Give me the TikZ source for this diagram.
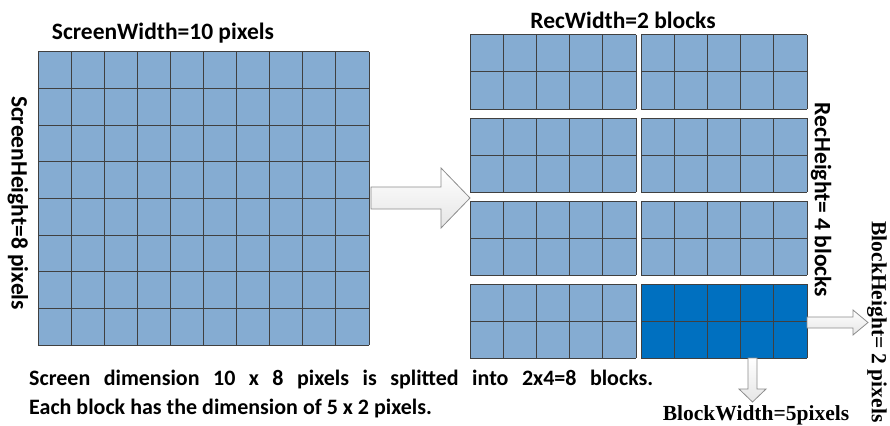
\documentclass[tikz,border=0pt]{standalone}
\usepackage{fontspec}
\setmainfont{Carlito}
\newfontfamily\serifbold{Liberation Serif}
\usetikzlibrary{shadings}
\definecolor{cellblue}{HTML}{85ACD2}
\definecolor{darkblue}{HTML}{0070C0}
\definecolor{gridgray}{HTML}{404040}
\definecolor{arrowgray}{HTML}{8C8C8C}
\begin{document}
\begin{tikzpicture}[x=1pt,y=-1pt,
  gridline/.style={draw=gridgray, line width=1pt},
  lbl/.style={font=\fontsize{23.5}{26}\selectfont\bfseries, inner sep=0pt},
  txt/.style={font=\fontsize{22}{25}\selectfont\bfseries, inner sep=0pt},
  slbl/.style={font=\fontsize{21.5}{24}\selectfont\serifbold\bfseries, inner sep=0pt},
  blockarrow/.style={draw=arrowgray, line width=0.8pt, top color=white, bottom color=gray!20, shading angle=0}
]
\useasboundingbox (0,0) rectangle (890,425);
% left screen grid
\fill[cellblue] (38,52) rectangle (369,345);
\foreach \i in {0,...,10} \draw[gridline] (38+\i*33.1,52) -- (38+\i*33.1,345);
\foreach \j in {0,...,8} \draw[gridline] (38,52+\j*36.625) -- (369,52+\j*36.625);
% right blocks
\foreach \bx in {470,641} {
  \foreach \by in {35,118,201,284} {
    \fill[cellblue] (\bx,\by) rectangle ++(166,74);
    \foreach \i in {0,...,5} \draw[gridline] (\bx+\i*33.2,\by) -- ++(0,74);
    \foreach \j in {0,1,2} \draw[gridline] (\bx,\by+\j*37) -- ++(166,0);
  }
}
% highlighted block
\fill[darkblue] (641,284) rectangle ++(166,74);
\foreach \i in {0,...,5} \draw[gridline] (641+\i*33.2,284) -- ++(0,74);
\foreach \j in {0,1,2} \draw[gridline] (641,284+\j*37) -- ++(166,0);
% block arrows
\draw[blockarrow] (371,187) -- (441,187) -- (441,168) -- (470,198) -- (441,228) -- (441,209) -- (371,209) -- cycle;
\draw[blockarrow] (807,317) -- (853,317) -- (853,310) -- (868,322.5) -- (853,335) -- (853,328) -- (807,328) -- cycle;
\draw[blockarrow] (748,358) -- (748,389) -- (739,389) -- (752.5,402) -- (766,389) -- (757,389) -- (757,358) -- cycle;
% labels
\node[lbl] (sw) at (163,33) {ScreenWidth=10 pixels};
\node[lbl, rotate=-90] (sh) at (18,203) {ScreenHeight=8 pixels};
\node[lbl] (rw) at (623,20) {RecWidth=2 blocks};
\node[lbl, rotate=-90] (rh) at (821,200) {RecHeight= 4 blocks};
\node[slbl, rotate=-90] (bh) at (877,322) {BlockHeight= 2 pixels};
\node[slbl] (bw) at (756,415) {BlockWidth=5pixels};
\node[txt, anchor=west] (l1) at (29,380) {\makebox[624pt][s]{Screen dimension 10 x 8 pixels is splitted into 2x4=8 blocks.}};
\node[txt, anchor=west] (l2) at (29,409) {Each block has the dimension of 5 x 2 pixels.};
\end{tikzpicture}
\end{document}
